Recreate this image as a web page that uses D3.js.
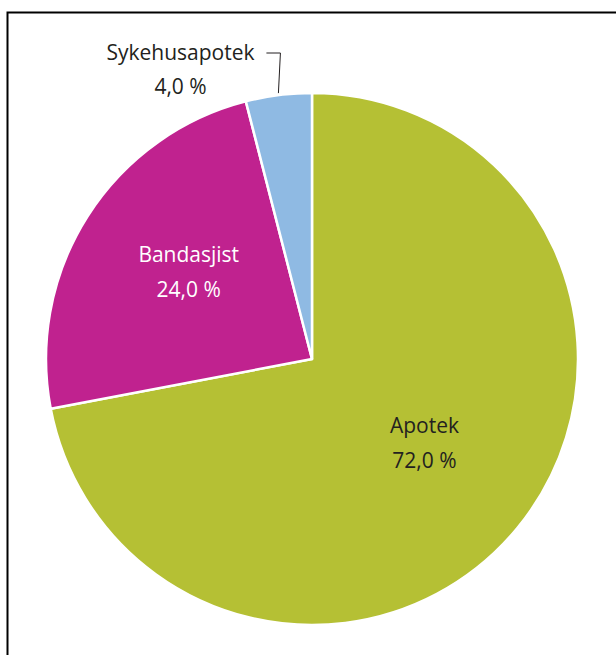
<!DOCTYPE html>
<html>
<head>
<meta charset="utf-8">
<script src="https://cdn.jsdelivr.net/npm/d3@7"></script>
<style>
  html, body { margin: 0; padding: 0; background: #fff; }
  svg { display: block; }
  text { font-family: "Open Sans", "Noto Sans", sans-serif; }
</style>
</head>
<body>
<svg id="chart" width="616" height="655"></svg>
<script>
// Share of dispensing by channel (percent)
const categories = ["Apotek", "Bandasjist", "Sykehusapotek"];
const values = [72.0, 24.0, 4.0];
const colors = ["#b5c034", "#c0228f", "#8fbae3"];
const valueLabels = ["72,0 %", "24,0 %", "4,0 %"];

const width = 616, height = 655;
const cx = 312, cy = 359, radius = 266;
const fontSize = 21;

const svg = d3.select("#chart");

// Frame around the figure (runs past the right and bottom edges)
svg.append("rect")
  .attr("x", 7.5).attr("y", 12.5)
  .attr("width", 620).attr("height", 660)
  .attr("fill", "none")
  .attr("stroke", "#000")
  .attr("stroke-width", 2);

const data = categories.map((c, i) => ({ name: c, value: values[i], color: colors[i], label: valueLabels[i] }));

const pie = d3.pie().sort(null).value(d => d.value);
const arcs = pie(data);
const arc = d3.arc().innerRadius(0).outerRadius(radius);

const g = svg.append("g").attr("transform", `translate(${cx},${cy})`);

g.selectAll("path.slice")
  .data(arcs)
  .join("path")
  .attr("class", "slice")
  .attr("d", arc)
  .attr("fill", d => d.data.color)
  .attr("stroke", "#fff")
  .attr("stroke-width", 2.5)
  .attr("stroke-linejoin", "round");

// Inside labels for the two large slices
const inner = [
  { idx: 0, color: "#231f20" },
  { idx: 1, color: "#ffffff" }
];
const labelArc = d3.arc().innerRadius(146).outerRadius(146);

inner.forEach(o => {
  const a = arcs[o.idx];
  const [x, y] = labelArc.centroid(a);
  const t = g.append("text")
    .attr("text-anchor", "middle")
    .attr("fill", o.color)
    .attr("font-size", fontSize);
  t.append("tspan").attr("x", x).attr("y", y - 19).text(a.data.name);
  t.append("tspan").attr("x", x).attr("y", y + 16).text(a.data.label);
});

// Small slice: label outside with a leader line
const small = arcs[2];
const mid = (small.startAngle + small.endAngle) / 2;
const edge = d3.arc().innerRadius(radius + 2).outerRadius(radius + 2).centroid({ startAngle: mid, endAngle: mid });
const elbow = [edge[0] + 2, -306];
g.append("path")
  .attr("d", d3.line()([edge, elbow, [elbow[0] - 14, elbow[1]]]))
  .attr("fill", "none")
  .attr("stroke", "#231f20")
  .attr("stroke-width", 1);

const st = g.append("text")
  .attr("text-anchor", "middle")
  .attr("fill", "#231f20")
  .attr("font-size", fontSize);
st.append("tspan").attr("x", -131.5).attr("y", -299).text(small.data.name);
st.append("tspan").attr("x", -131.5).attr("y", -265).text(small.data.label);
</script>
</body>
</html>
